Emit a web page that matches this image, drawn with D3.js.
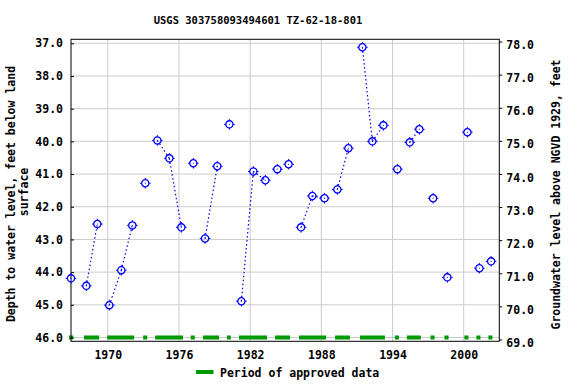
<!DOCTYPE html>
<html><head><meta charset="utf-8">
<script src="https://cdn.jsdelivr.net/npm/d3@7"></script>
<style>body{margin:0;background:#fff}svg{display:block}text{font-family:"DejaVu Sans Mono",monospace;font-weight:bold;fill:#000}</style>
</head><body>
<svg id="c" width="576" height="384"></svg>
<script>
const title = "USGS 303758093494601 TZ-62-18-801";
const years = [1966.9,1968.19,1969.12,1970.13,1971.14,1972.07,1973.16,1974.18,1975.19,1976.2,1977.21,1978.2,1979.23,1980.25,1981.26,1982.27,1983.28,1984.29,1985.24,1986.29,1987.24,1988.27,1989.35,1990.28,1991.46,1992.3,1993.23,1994.41,1995.45,1996.26,1997.42,1998.62,2000.31,2001.32,2002.31];
const depths = [44.19,44.42,42.53,45.01,43.94,42.57,41.28,39.97,40.52,42.63,40.67,42.97,40.76,39.48,44.89,40.92,41.19,40.85,40.70,42.63,41.67,41.74,41.47,40.21,37.12,40.00,39.51,40.85,40.03,39.63,41.74,44.16,39.72,43.88,43.67];
// 1 = joined to previous measurement by dotted line
const joined = [0,0,1,0,1,1,0,0,1,1,0,0,1,0,0,1,1,0,0,0,1,1,0,1,0,1,1,0,0,1,0,0,0,0,0];
const approvedStart = [1966.74,1968.0,1969.95,1972.98,1973.99,1976.99,1978.03,1980.04,1981.06,1984.1,1986.12,1989.16,1991.26,1994.2,1995.21,1997.2,1998.38,2000.06,2001.07,2002.08];
const approvedEnd   = [1967.08,1969.27,1972.22,1973.32,1976.34,1977.33,1979.38,1980.37,1983.42,1985.36,1988.4,1990.41,1993.36,1994.54,1996.39,1997.54,1998.72,2000.4,2001.41,2002.42];
const xTicks = [1970,1976,1982,1988,1994,2000];
const leftTicks = [37,38,39,40,41,42,43,44,45,46];
const rightTicks = [69,70,71,72,73,74,75,76,77,78];

const svg = d3.select("#c");
const L = 71, R = 499.3, T = 39.3, B = 341.3;
const x = d3.scaleLinear().domain([1966.9, 2003.0]).range([L, R]);
const y = d3.scaleLinear().domain([37, 46]).range([43.3, 337.5]);
const yR = d3.scaleLinear().domain([69, 78]).range([339.5, 41.5]);

// grid
const g = svg.append("g");
g.selectAll("line.h").data(leftTicks).join("line")
  .attr("x1", L).attr("x2", R).attr("y1", d => y(d)).attr("y2", d => y(d))
  .attr("stroke", "#cccccc").attr("stroke-width", 1);
g.selectAll("line.v").data(xTicks).join("line")
  .attr("x1", d => x(d)).attr("x2", d => x(d)).attr("y1", T).attr("y2", B)
  .attr("stroke", "#cccccc").attr("stroke-width", 1);

// approved periods
svg.append("g").selectAll("rect").data(approvedStart).join("rect")
  .attr("x", (d) => x(d)).attr("width", (d, i) => x(approvedEnd[i]) - x(d))
  .attr("y", y(46) - 2).attr("height", 4).attr("fill", "#009900");

// frame
svg.append("rect").attr("x", L).attr("y", T).attr("width", R - L).attr("height", B - T)
  .attr("fill", "none").attr("stroke", "#000").attr("stroke-width", 1);

// axes
const axL = svg.append("g").attr("transform", `translate(${L},0)`)
  .call(d3.axisLeft(y).tickValues(leftTicks).tickFormat(d3.format(".1f")).tickSize(-3).tickPadding(8));
const axR = svg.append("g").attr("transform", `translate(${R},0)`)
  .call(d3.axisRight(yR).tickValues(rightTicks).tickFormat(d3.format(".1f")).tickSize(3).tickPadding(4));
const axB = svg.append("g").attr("transform", `translate(0,${B})`)
  .call(d3.axisBottom(x).tickValues(xTicks).tickFormat(d3.format("d")).tickSize(0).tickPadding(10));
[axL, axR, axB].forEach(a => {
  a.select(".domain").remove();
  a.selectAll("line").attr("stroke", "#000");
  a.selectAll("text").style("font-family", '"DejaVu Sans Mono",monospace').style("font-weight", "bold").style("font-size", "11.5px").attr("fill", "#000");
});
axR.selectAll("text").attr("dy", "0.62em");

// dotted connecting lines
const pts = years.map((d, i) => [d, depths[i]]);
const segs = [];
pts.forEach((p, i) => { if (i > 0 && joined[i]) segs.push([pts[i - 1], p]); });
svg.append("g").selectAll("line").data(segs).join("line")
  .attr("x1", d => x(d[0][0])).attr("y1", d => y(d[0][1]))
  .attr("x2", d => x(d[1][0])).attr("y2", d => y(d[1][1]))
  .attr("stroke", "#0000ff").attr("stroke-width", 1.2).attr("stroke-dasharray", "1.5,2.5");

// markers
const mk = svg.append("g").selectAll("g").data(pts).join("g")
  .attr("transform", d => `translate(${x(d[0])},${y(d[1])})`);
mk.append("circle").attr("r", 3.6).attr("fill", "none").attr("stroke", "#0000ff").attr("stroke-width", 1.3);
mk.append("rect").attr("x", -0.5).attr("y", -0.5).attr("width", 1).attr("height", 1).attr("fill", "#0000ff");
mk.append("path").attr("d", "M0,-3.6V-5.3M0,3.6V5.3M-3.6,0H-5.3M3.6,0H5.3").attr("stroke", "#0000ff").attr("stroke-width", 1);

// title
svg.append("text").attr("x", 258).attr("y", 24).attr("text-anchor", "middle")
  .style("font-size", "10.5px").text(title);

// axis titles
svg.append("text").attr("transform", "translate(15,194) rotate(-90)").attr("text-anchor", "middle")
  .style("font-size", "11.5px").text("Depth to water level, feet below land");
svg.append("text").attr("transform", "translate(28,192) rotate(-90)").attr("text-anchor", "middle")
  .style("font-size", "11.5px").text("surface");
svg.append("text").attr("transform", "translate(560,194.5) rotate(-90)").attr("text-anchor", "middle")
  .style("font-size", "11.5px").text("Groundwater level above NGVD 1929, feet");

// legend
svg.append("line").attr("x1", 196).attr("x2", 213.5).attr("y1", 372).attr("y2", 372)
  .attr("stroke", "#009900").attr("stroke-width", 4);
svg.append("text").attr("x", 220).attr("y", 377).style("font-size", "11.5px").text("Period of approved data");
</script>
</body></html>
